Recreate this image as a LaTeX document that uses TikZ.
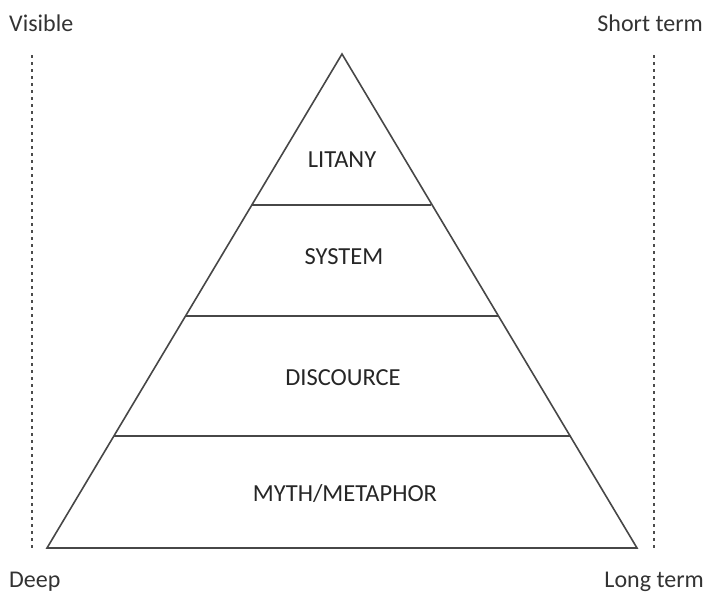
\documentclass[tikz,border=0pt]{standalone}
\usepackage{fontspec}
\setmainfont{Carlito}
\begin{document}
\begin{tikzpicture}[x=1pt,y=-1pt,
  edge/.style={draw=black!72,line width=1.6pt},
  guide/.style={draw=black!70,line width=1.5pt,dash pattern=on 3pt off 4pt},
  lbl/.style={font=\fontsize{24}{28}\selectfont,text=black!80,inner sep=0pt},
  layer/.style={font=\fontsize{24.5}{28}\selectfont,text=black!85,inner sep=0pt}]
\useasboundingbox (0,0) rectangle (706,597);
\coordinate (apex) at (342,54);
\coordinate (bl) at (47,548);
\coordinate (br) at (637,548);
\coordinate (l1) at (252,205); \coordinate (r1) at (431,205);
\coordinate (l2) at (186,316); \coordinate (r2) at (498,316);
\coordinate (l3) at (114,436); \coordinate (r3) at (570,436);
\draw[edge,line join=miter] (apex) -- (bl) -- (br) -- cycle;
\draw[edge] (l1) -- (r1);
\draw[edge] (l2) -- (r2);
\draw[edge] (l3) -- (r3);
\coordinate (dlt) at (32,55); \coordinate (dlb) at (32,548);
\coordinate (drt) at (654,55); \coordinate (drb) at (654,548);
\draw[guide] (dlt) -- (dlb);
\draw[guide] (drt) -- (drb);
\node[lbl,anchor=west] (vis) at (9,23) {Visible};
\node[lbl,anchor=east] (st) at (703,23) {Short term};
\node[lbl,anchor=west] (deep) at (9,582) {Deep};
\node[lbl,anchor=east] (lt) at (704,582) {Long term};
\node[layer] (litany) at (342,160) {LITANY};
\node[layer] (system) at (344,257) {SYSTEM};
\node[layer] (disc) at (343,378) {DISCOURCE};
\node[layer] (myth) at (345,494) {MYTH/METAPHOR};
\end{tikzpicture}
\end{document}
